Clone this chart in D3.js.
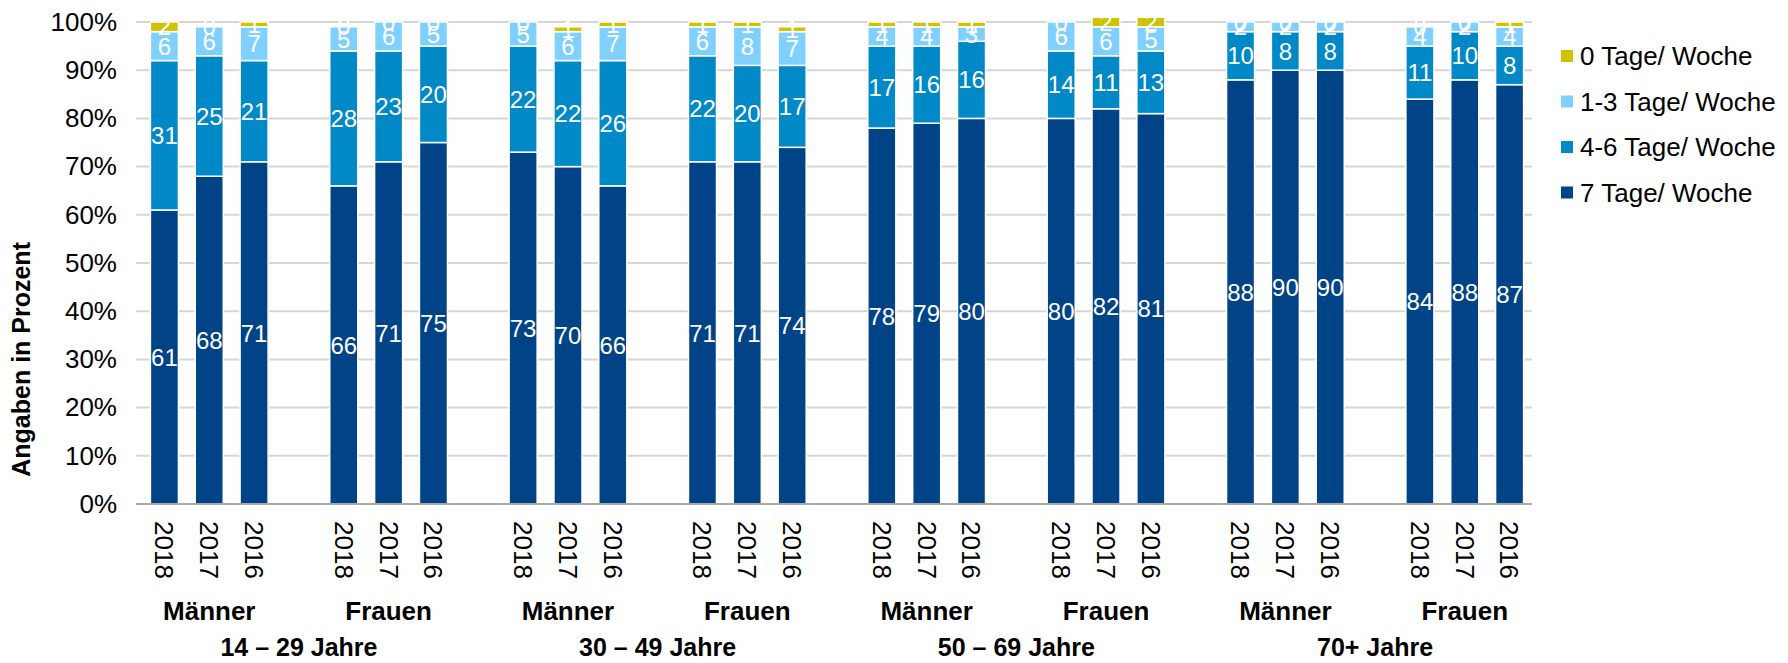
<!DOCTYPE html>
<html>
<head>
<meta charset="utf-8">
<script src="https://cdn.jsdelivr.net/npm/d3@7"></script>
<style>
  body { margin: 0; background: #fff; }
  svg { font-family: "Liberation Sans", Arial, sans-serif; }
  .grid line { stroke: #d6d6d6; stroke-width: 2; }
  .bar { stroke: #fff; stroke-width: 1.5; }
  .wert { fill: #fff; font-size: 24px; text-anchor: middle; }
</style>
</head>
<body>
<svg width="1788" height="663"></svg>
<script>
// daten
var jahre = ["2018", "2017", "2016"];
var geschlecht = ["Männer", "Frauen", "Männer", "Frauen", "Männer", "Frauen", "Männer", "Frauen"];
var alter = ["14 – 29 Jahre", "30 – 49 Jahre", "50 – 69 Jahre", "70+ Jahre"];
var serien = ["7 Tage/ Woche", "4-6 Tage/ Woche", "1-3 Tage/ Woche", "0 Tage/ Woche"];
var farben = ["#004387", "#0088c7", "#80d0ff", "#cfc300"];
var yTicks = [0, 10, 20, 30, 40, 50, 60, 70, 80, 90, 100];

// je gruppe drei werte (2018, 2017, 2016)
var tage7   = [61, 68, 71,  66, 71, 75,  73, 70, 66,  71, 71, 74,  78, 79, 80,  80, 82, 81,  88, 90, 90,  84, 88, 87];
var tage4_6 = [31, 25, 21,  28, 23, 20,  22, 22, 26,  22, 20, 17,  17, 16, 16,  14, 11, 13,  10, 8, 8,    11, 10, 8];
var tage1_3 = [6, 6, 7,     5, 6, 5,     5, 6, 7,     6, 8, 7,     4, 4, 3,     6, 6, 5,     2, 2, 2,     4, 2, 4];
var tage0   = [2, 0, 1,     0, 0, 0,     0, 1, 1,     1, 1, 1,     1, 1, 1,     0, 2, 2,     0, 0, 0,     0, 0, 1];

var svg = d3.select("svg"),
    margin = {top: 22, right: 256, bottom: 159, left: 142},
    width = +svg.attr("width") - margin.left - margin.right,
    height = +svg.attr("height") - margin.top - margin.bottom;

// tabelle: ein eintrag pro balken, dazwischen leere slots
var data = [], slots = [];
geschlecht.forEach(function(g, gi) {
  jahre.forEach(function(j, ji) {
    var i = gi * 3 + ji;
    var key = "g" + gi + "-" + j;
    slots.push(key);
    data.push({key: key, jahr: j, gruppe: gi, s0: tage7[i], s1: tage4_6[i], s2: tage1_3[i], s3: tage0[i]});
  });
  if (gi < geschlecht.length - 1) slots.push("leer" + gi);
});

var x = d3.scaleBand().domain(slots).range([0, width]).paddingInner(0.375).paddingOuter(0.1875),
    y = d3.scaleLinear().domain([0, 100]).range([height, 0]);

var g = svg.append("g")
    .attr("transform", "translate(" + margin.left + "," + margin.top + ")");

// gitterlinien
g.append("g").attr("class", "grid")
  .selectAll("line")
  .data(yTicks.slice(1))
  .enter().append("line")
    .attr("x1", -6).attr("x2", width)
    .attr("y1", function(d) { return y(d); })
    .attr("y2", function(d) { return y(d); });

// y-achse
var yAxis = g.append("g")
    .call(d3.axisLeft(y).tickValues(yTicks).tickFormat(function(d) { return d + "%"; }).tickSize(0).tickPadding(25));
yAxis.select(".domain").remove();
yAxis.selectAll("text").style("font-size", "26px").style("fill", "#000");

// stapel
var stack = d3.stack().keys(["s0", "s1", "s2", "s3"]);
var reihen = stack(data);

var ebene = g.selectAll(".serie")
  .data(reihen)
  .enter().append("g")
    .attr("class", "serie")
    .attr("fill", function(d, i) { return farben[i]; });

ebene.selectAll("rect")
  .data(function(d) { return d; })
  .enter().append("rect")
    .attr("class", "bar")
    .attr("x", function(d) { return x(d.data.key); })
    .attr("y", function(d) { return y(d[1]); })
    .attr("width", x.bandwidth())
    .attr("height", function(d) { return y(d[0]) - y(d[1]); });

ebene.selectAll("text")
  .data(function(d) { return d; })
  .enter().append("text")
    .attr("class", "wert")
    .attr("x", function(d) { return x(d.data.key) + x.bandwidth() / 2; })
    .attr("y", function(d) { return y((d[0] + d[1]) / 2); })
    .attr("dy", "0.36em")
    .text(function(d) { return d[1] - d[0]; });

// nulllinie
g.append("line")
    .attr("x1", -6).attr("x2", width)
    .attr("y1", height).attr("y2", height)
    .attr("stroke", "#a8a8a8").attr("stroke-width", 2);

// jahreszahlen, gedreht
g.selectAll(".jahr")
  .data(data)
  .enter().append("text")
    .attr("class", "jahr")
    .attr("transform", function(d) {
      return "translate(" + (x(d.key) + x.bandwidth() / 2) + "," + (height + 17) + ") rotate(90)";
    })
    .attr("dy", "0.35em")
    .style("font-size", "26px")
    .text(function(d) { return d.jahr; });

// geschlecht unter der mittleren säule
g.selectAll(".geschlecht")
  .data(geschlecht)
  .enter().append("text")
    .attr("x", function(d, i) { return x("g" + i + "-2017") + x.bandwidth() / 2; })
    .attr("y", height + 116)
    .attr("text-anchor", "middle")
    .style("font-size", "26px").style("font-weight", "bold")
    .text(function(d) { return d; });

// altersgruppen
g.selectAll(".alter")
  .data(alter)
  .enter().append("text")
    .attr("x", function(d, i) {
      var a = x("g" + (i * 2) + "-2017"), b = x("g" + (i * 2 + 1) + "-2017");
      return (a + b) / 2 + x.bandwidth() / 2;
    })
    .attr("y", height + 152)
    .attr("text-anchor", "middle")
    .style("font-size", "25px").style("font-weight", "bold")
    .text(function(d) { return d; });

// y-titel
g.append("text")
    .attr("transform", "translate(" + (-112) + "," + (y(30)) + ") rotate(-90)")
    .attr("text-anchor", "middle")
    .style("font-size", "25px").style("font-weight", "bold")
    .text("Angaben in Prozent");

// legende, oberste serie zuerst
var legende = svg.append("g")
    .attr("transform", "translate(1561,56)");
var eintrag = legende.selectAll("g")
  .data(serien.slice().reverse())
  .enter().append("g")
    .attr("transform", function(d, i) { return "translate(0," + (i * 45.5) + ")"; });
eintrag.append("rect")
    .attr("x", 0).attr("y", -6).attr("width", 12).attr("height", 12)
    .attr("fill", function(d, i) { return farben[3 - i]; });
eintrag.append("text")
    .attr("x", 19).attr("dy", "0.36em")
    .style("font-size", "26px")
    .text(function(d) { return d; });
</script>
</body>
</html>
